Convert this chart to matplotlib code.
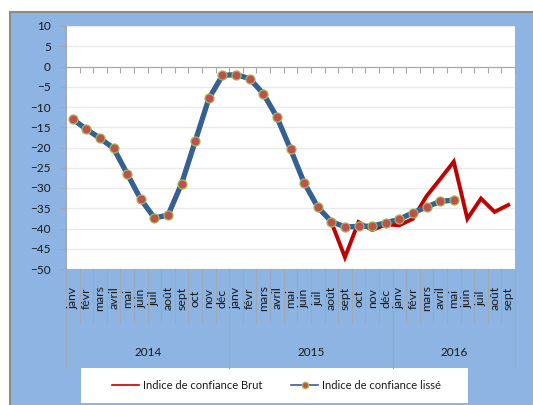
import matplotlib
matplotlib.use("Agg")
import matplotlib.pyplot as plt
from matplotlib.patches import Rectangle
from matplotlib.lines import Line2D
import numpy as np

plt.rcParams['font.family'] = ['Lato', 'DejaVu Sans']

months = ["janv", "févr", "mars", "avril", "mai", "juin", "juil", "août",
          "sept", "oct", "nov", "déc"]
years = ["2014", "2015", "2016"]
year_lengths = [12, 12, 9]
categories = months + months + months[:9]

brut = [-13.0, -15.5, -17.7, -20.2, -26.5, -32.8, -37.4, -36.7, -28.9, -18.4, -7.9, -2.2,
        -2.0, -3.0, -6.7, -12.5, -20.4, -28.7, -34.7, -38.4, -47.1, -38.4, -40.4, -39.0,
        -39.2, -37.6, -32.0, -27.8, -23.5, -37.6, -32.6, -35.9, -34.2]
lisse = [-13.0, -15.5, -17.7, -20.2, -26.5, -32.8, -37.4, -36.7, -28.9, -18.4, -7.9, -2.2,
         -2.0, -3.0, -6.7, -12.5, -20.4, -28.7, -34.7, -38.3, -39.6, -39.5, -39.4, -38.6,
         -37.7, -36.1, -34.7, -33.3, -33.0]

BG = '#8DB4E2'
W, H = 533, 405
fig = plt.figure(figsize=(W / 100, H / 100), dpi=100, facecolor='white')
fig.patches.append(Rectangle((10 / W, -0.01), 1.0, (H - 12) / H + 0.01,
                             transform=fig.transFigure, facecolor=BG,
                             edgecolor='#8C8C8C', linewidth=1.5, zorder=0))

ax_l, ax_r, ax_t, ax_b = 66, 515, 26, 269
ax = fig.add_axes([ax_l / W, 1 - ax_b / H, (ax_r - ax_l) / W, (ax_b - ax_t) / H])
ax.set_zorder(2)
ax.set_facecolor('white')

n = len(categories)
x_all = np.arange(n)
ax.plot(x_all, brut, color='#C00000', lw=2.8, solid_joinstyle='miter', zorder=3,
        label='Indice de confiance Brut')
ax.plot(np.arange(len(lisse)), lisse, color='#376092', lw=3.8, zorder=4,
        marker='o', markersize=6.5, markerfacecolor='#C0504D',
        markeredgecolor='#9BBB59', markeredgewidth=0.9,
        label='Indice de confiance lissé')

ax.set_xlim(-0.5, n - 0.5)
ax.set_ylim(-50, 10)
ax.set_yticks(np.arange(-50, 11, 5))
ax.yaxis.grid(True, color='#EAEAEA', lw=1.0)
ax.set_axisbelow(True)

for s in ['top', 'right']:
    ax.spines[s].set_visible(False)
ax.spines['left'].set_color('#A6A6A6')
ax.spines['bottom'].set_position(('data', 0))
ax.spines['bottom'].set_color('#A6A6A6')
ax.spines['bottom'].set_zorder(2)

ax.set_xticks(np.arange(-0.5, n, 1.0))
ax.set_xticklabels([])
ax.tick_params(axis='x', direction='out', length=4, color='#A6A6A6')
ax.tick_params(axis='y', direction='out', length=4, color='#A6A6A6', pad=7,
               labelsize=8.5, labelcolor='#1A1A1A')

trans = ax.get_xaxis_transform()
h_ax = ax_b - ax_t
def ay(px):
    return (ax_b - px) / h_ax

for i, lab in enumerate(categories):
    ax.text(i, ay(298), lab, rotation=90, ha='center', va='center',
            fontsize=8.8, color='#1A1A1A', transform=trans, clip_on=False)

boundaries = np.arange(-0.5, n, 1.0)
year_bounds = [-0.5]
for L in year_lengths:
    year_bounds.append(year_bounds[-1] + L)
for b in boundaries:
    bottom = ay(368) if b in year_bounds else ay(323)
    ax.add_line(Line2D([b, b], [0, bottom], transform=trans, color='#9FA8B5',
                       lw=0.8, clip_on=False))

for k, yr in enumerate(years):
    c = (year_bounds[k] + year_bounds[k + 1]) / 2
    ax.text(c, ay(352), yr, ha='center', va='center', fontsize=8.5,
            color='#1A1A1A', transform=trans, clip_on=False)

# legend box
lx0, lx1, ly0, ly1 = 81, 468, 368, 403
fig.patches.append(Rectangle((lx0 / W, 1 - ly1 / H), (lx1 - lx0) / W, (ly1 - ly0) / H,
                             transform=fig.transFigure, facecolor='white',
                             edgecolor='none', zorder=1))
handles, labels = ax.get_legend_handles_labels()
h1 = Line2D([], [], color='#C00000', lw=1.2)
h2 = Line2D([], [], color='#376092', lw=1.2, marker='o', markersize=4.5,
            markerfacecolor='#C0504D', markeredgecolor='#9BBB59')
leg = fig.legend([h1, h2], labels, loc='center left', ncol=2,
                 bbox_to_anchor=(112 / W, 1 - 385.5 / H), frameon=False,
                 fontsize=8, handlelength=2.4, handletextpad=0.4,
                 columnspacing=2.6, borderpad=0, borderaxespad=0)
for t in leg.get_texts():
    t.set_color('#1A1A1A')

fig.savefig('out.png', dpi=100, facecolor='white')
